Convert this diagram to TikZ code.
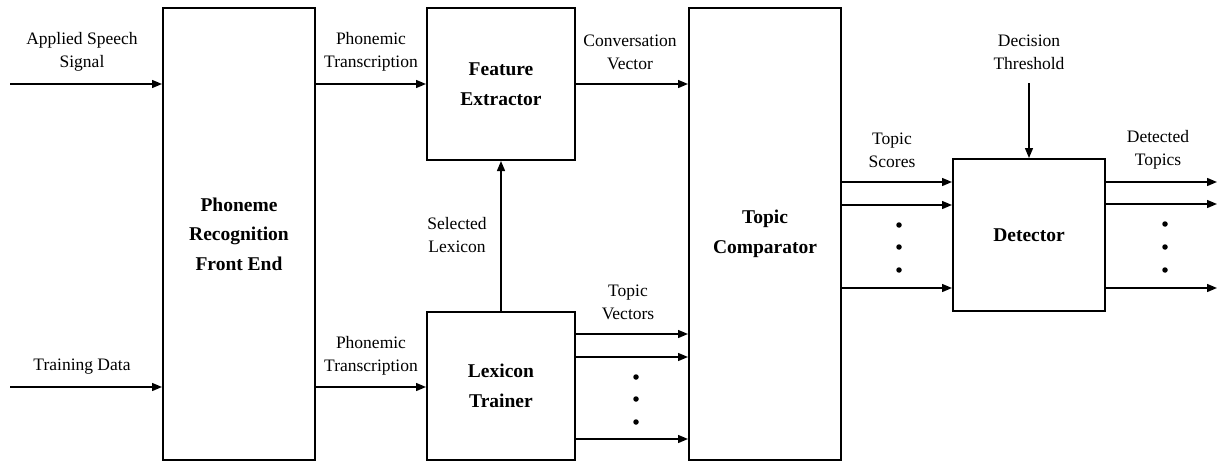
\documentclass[tikz,border=0pt]{standalone}
\usepackage{fontspec}
\setmainfont{Liberation Serif}
\usetikzlibrary{arrows.meta}
\begin{document}
\begin{tikzpicture}[x=1pt,y=-1pt,
  block/.style={draw, line width=2pt, inner sep=0pt, align=center,
    font=\fontsize{19.5}{29.5}\selectfont\bfseries},
  lbl/.style={align=center, inner sep=0pt, font=\fontsize{17.5}{23}\selectfont},
  arr/.style={line width=1.4pt, -{Triangle[length=10pt,width=8pt]}},
  dot/.style={fill, circle, inner sep=0pt, minimum size=5.5pt}]
\useasboundingbox (0,0) rectangle (1219,463);

% processing blocks
\node[block, minimum width=152pt, minimum height=452pt] (pr) at (239,234) {Phoneme\\Recognition\\Front End};
\node[block, minimum width=148pt, minimum height=152pt] (fe) at (501,84) {Feature\\Extractor};
\node[block, minimum width=148pt, minimum height=148pt] (lt) at (501,386) {Lexicon\\Trainer};
\node[block, minimum width=152pt, minimum height=452pt] (tc) at (765,234) {Topic\\Comparator};
\node[block, minimum width=152pt, minimum height=152pt] (det) at (1029,235) {Detector};

% free ends of the input and output lines
\coordinate (speech) at (10,84);
\coordinate (train) at (10,387);
\coordinate (thresh) at (1029,83);
\coordinate (out) at (1217,0);

% inputs
\draw[arr] (speech) -- (speech -| pr.west);
\draw[arr] (train) -- (train -| pr.west);
\node[lbl] (l1) at (82,52) {Applied Speech\\Signal};
\node[lbl] (l2) at (82,367) {Training Data};

% front end to feature extractor and lexicon trainer
\draw[arr] (pr.east |- fe.west) -- (fe.west);
\draw[arr] (pr.east |- 0,387) -- (lt.west |- 0,387);
\node[lbl] (l3) at (371,52) {Phonemic\\Transcription};
\node[lbl] (l4) at (371,356) {Phonemic\\Transcription};

% selected lexicon
\draw[arr] (lt.north) -- (fe.south);
\node[lbl] (l5) at (457,235) {Selected\\Lexicon};

% conversation vector
\draw[arr] (fe.east) -- (fe.east -| tc.west);
\node[lbl] (l6) at (630,52) {Conversation\\Vector};

% topic vectors
\foreach \yy in {334,357,439}
  \draw[arr] (lt.east |- 0,\yy) -- (tc.west |- 0,\yy);
\node[lbl] (l7) at (628,302) {Topic\\Vectors};
\foreach \yy in {377,399,422}
  \node[dot] at (636,\yy) {};

% topic scores
\foreach \yy in {182,205,288}
  \draw[arr] (tc.east |- 0,\yy) -- (det.west |- 0,\yy);
\node[lbl] (l8) at (892,150) {Topic\\Scores};
\foreach \yy in {225,247,270}
  \node[dot] at (899,\yy) {};

% decision threshold
\draw[arr] (thresh) -- (det.north);
\node[lbl] (l9) at (1029,52) {Decision\\Threshold};

% detected topics
\foreach \yy in {182,204,288}
  \draw[arr] (det.east |- 0,\yy) -- (out |- 0,\yy);
\node[lbl] (l10) at (1158,150) {Detected\\Topics};
\foreach \yy in {224,247,270}
  \node[dot] at (1165,\yy) {};
\end{tikzpicture}
\end{document}
